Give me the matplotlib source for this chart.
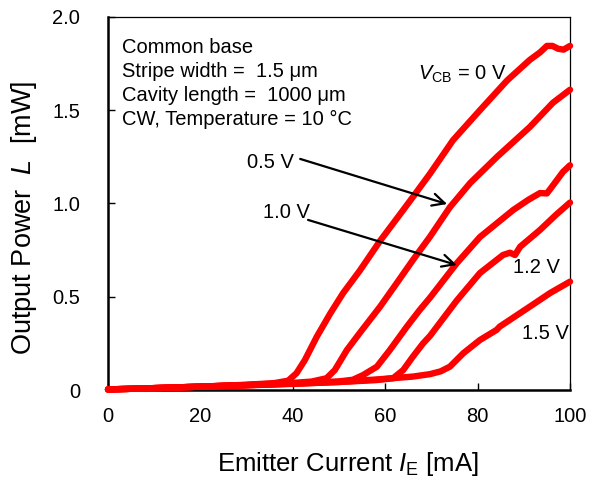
#!/usr/bin/env python3
"""L-I curves of the transistor laser for several collector-base voltages."""

import matplotlib

matplotlib.use("Agg")
import matplotlib.pyplot as plt

# --- data (emitter current mA, output power mW) ---
i_0v = [0, 10, 20, 30, 36, 39, 40.8, 42.6, 45.2, 48.1, 50.9, 54.5, 58.9, 63.9,
        66.0, 69.7, 74.7, 80.5, 86.4, 91.3, 93.5, 95.0, 96.2, 97.4, 98.6, 100]
l_0v = [0.003, 0.010, 0.018, 0.028, 0.037, 0.050, 0.090, 0.160, 0.286, 0.410,
        0.520, 0.640, 0.800, 0.965, 1.035, 1.160, 1.340, 1.500, 1.660, 1.770,
        1.810, 1.845, 1.845, 1.830, 1.825, 1.845]

i_05v = [0, 10, 20, 30, 40, 44, 47.3, 49.1, 51.7, 54.5, 58.9, 62.5, 66.0, 69.7,
         74.0, 78.4, 84.2, 91.3, 96.3, 100]
l_05v = [0.003, 0.010, 0.018, 0.027, 0.038, 0.045, 0.063, 0.107, 0.214, 0.306,
         0.447, 0.573, 0.697, 0.822, 0.980, 1.110, 1.250, 1.410, 1.540, 1.610]

i_10v = [0, 10, 20, 30, 40, 50, 53, 55.2, 58.2, 61.0, 64.7, 67.5, 69.7, 75.5,
         80.5, 87.7, 91.0, 93.5, 95.0, 96.1, 98.5, 100]
l_10v = [0.003, 0.010, 0.018, 0.026, 0.035, 0.046, 0.055, 0.080, 0.125, 0.214,
         0.340, 0.430, 0.495, 0.680, 0.820, 0.965, 1.020, 1.056, 1.054, 1.090,
         1.170, 1.205]

i_12v = [0, 10, 20, 30, 40, 50, 58, 61.7, 63.9, 66.0, 68.2, 69.7, 75.5, 80.5,
         85.5, 87.0, 88.1, 89.2, 93.5, 97, 100]
l_12v = [0.003, 0.010, 0.018, 0.026, 0.034, 0.043, 0.053, 0.063, 0.107, 0.179,
         0.250, 0.290, 0.480, 0.627, 0.724, 0.736, 0.724, 0.768, 0.858, 0.940,
         1.005]

i_15v = [0, 10, 20, 30, 40, 50, 59, 66, 69.7, 72, 74, 76.9, 80.5, 84.1, 84.8,
         91.3, 95.7, 100]
l_15v = [0.003, 0.010, 0.018, 0.025, 0.033, 0.043, 0.058, 0.072, 0.085, 0.100,
         0.125, 0.197, 0.268, 0.322, 0.340, 0.447, 0.520, 0.581]

x_ticks = [0, 20, 40, 60, 80, 100]
y_ticks = [0, 0.5, 1.0, 1.5, 2.0]
y_tick_labels = ["0", "0.5", "1.0", "1.5", "2.0"]

info_lines = [
    "Common base",
    "Stripe width =  1.5 \u03bcm",
    "Cavity length =  1000 \u03bcm",
    "CW, Temperature = 10 \u00b0C",
]

plt.rcParams["font.family"] = ["Liberation Sans", "DejaVu Sans"]
plt.rcParams["mathtext.fontset"] = "custom"
plt.rcParams["mathtext.rm"] = "Liberation Sans"
plt.rcParams["mathtext.it"] = "Liberation Sans:italic"

fig = plt.figure(figsize=(5.91, 4.79), dpi=100)
ax = fig.add_axes([108 / 591, 89 / 479, 462 / 591, 373 / 479])

for xs, ys in [(i_0v, l_0v), (i_05v, l_05v), (i_10v, l_10v),
               (i_12v, l_12v), (i_15v, l_15v)]:
    ax.plot(xs, ys, color="#ff0000", lw=4.6, solid_capstyle="round",
            solid_joinstyle="round", clip_on=False, zorder=3)

ax.set_xlim(0, 100)
ax.set_ylim(0, 2.0)
ax.set_xticks(x_ticks)
ax.set_yticks(y_ticks)
ax.set_yticklabels(y_tick_labels)
ax.tick_params(direction="in", length=5, width=1, labelsize=14.5)
ax.tick_params(axis="y", pad=20)
ax.tick_params(axis="x", pad=12)

ax.spines["left"].set_linewidth(1.8)
ax.spines["bottom"].set_linewidth(1.8)
ax.spines["top"].set_linewidth(0.9)
ax.spines["right"].set_linewidth(0.9)

ax.set_xlabel(r"Emitter Current $\it{I}_{\rm E}$ [mA]", fontsize=18.5)
ax.set_ylabel(r"Output Power  $\it{L}$  [mW]", fontsize=19.5)
ax.xaxis.set_label_coords(0.519, -0.16)
ax.yaxis.set_label_coords(-0.15, 0.4625)

# info box, one line per baseline
for k, line in enumerate(info_lines):
    ax.text(3.0, 1.807 - 0.1295 * k, line, fontsize=14.5, va="baseline")

ax.text(67.1, 1.662, r"$\it{V}_{\rm CB}$ = 0 V", fontsize=14.5, va="baseline")
ax.text(30.1, 1.19, "0.5 V", fontsize=14.5, va="baseline")
ax.text(33.5, 0.922, "1.0 V", fontsize=14.5, va="baseline")
ax.text(87.7, 0.627, "1.2 V", fontsize=14.5, va="baseline")
ax.text(89.6, 0.273, "1.5 V", fontsize=14.5, va="baseline")

arrow = dict(arrowstyle="->", color="black", lw=1.6, mutation_scale=22,
             shrinkA=0, shrinkB=0)
ax.annotate("", xy=(73.4, 0.997), xytext=(41.6, 1.239), arrowprops=arrow)
ax.annotate("", xy=(75.5, 0.670), xytext=(43.3, 0.912), arrowprops=arrow)

fig.savefig("out.png", dpi=100)
